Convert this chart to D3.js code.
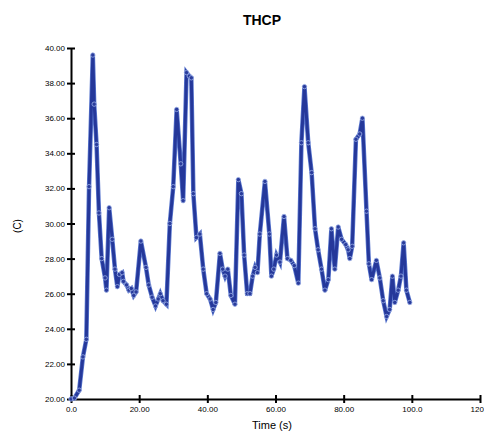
<!DOCTYPE html>
<meta charset="utf-8">
<script src="https://d3js.org/d3.v7.min.js"></script>
<style>
  body { margin: 0; background: #fff; }
  text { font-family: "Liberation Sans", Arial, sans-serif; }
</style>
<div id="my_dataviz"></div>
<script>
// data
var times = [0, 1, 2.4, 3.5, 4.5, 5.3, 6.4, 6.8, 7.5, 8.2, 9.0, 10.0, 10.4, 11.2, 12.1, 12.9, 13.6, 14.2, 15.0, 15.4,
  16.3, 17.0, 17.7, 18.4, 19.1, 20.5, 22.0, 22.8, 23.8, 24.8, 25.6, 26.2, 27.0, 28.0, 29.0, 30.0, 31.0, 32.2, 32.9, 33.9,
  34.7, 35.3, 35.9, 36.8, 37.8, 38.8, 39.8, 40.8, 41.7, 42.5, 43.7, 44.5, 45.2, 46.0, 46.9, 48.1, 49.1, 50.0, 50.8, 51.7,
  52.5, 53.3, 54.0, 54.7, 55.4, 56.9, 58.2, 58.8, 59.5, 60.3, 61.3, 62.5, 63.5, 64.5, 65.5, 66.7, 67.6, 68.5, 69.6, 70.6,
  71.6, 72.5, 73.5, 74.5, 75.5, 76.4, 77.4, 78.4, 79.4, 80.6, 81.3, 81.8, 82.5, 83.6, 84.7, 85.5, 86.7, 87.4, 88.2, 89.6,
  90.6, 91.6, 92.6, 93.5, 94.3, 95.0, 96.0, 96.8, 97.6, 98.4, 99.4];
var temps = [20.0, 20.05, 20.5, 22.4, 23.4, 32.1, 39.6, 36.8, 34.5, 30.6, 28.0, 26.9, 26.2, 30.9, 29.1, 27.4, 26.4, 27.1, 27.2, 26.7,
  26.5, 26.2, 26.3, 25.9, 26.1, 29.0, 27.5, 26.5, 25.8, 25.3, 25.7, 26.0, 25.6, 25.4, 30.0, 32.1, 36.5, 33.4, 31.3, 38.6,
  38.4, 38.3, 31.7, 29.2, 29.4, 27.4, 26.0, 25.7, 25.1, 25.5, 28.3, 27.4, 27.0, 27.4, 25.9, 25.4, 32.5, 31.7, 28.2, 26.0,
  26.0, 27.0, 27.5, 27.2, 29.4, 32.4, 29.4, 27.0, 27.4, 28.2, 27.8, 30.4, 28.0, 27.9, 27.6, 26.6, 34.6, 37.8, 34.6, 32.9,
  29.7, 28.5, 27.4, 26.2, 26.8, 29.7, 27.4, 29.8, 29.1, 28.8, 28.5, 28.0, 28.7, 34.8, 35.1, 36.0, 30.7, 27.7, 26.8, 27.9,
  26.9, 25.6, 24.7, 25.1, 27.0, 25.5, 26.2, 27.0, 28.9, 26.2, 25.5];
var xTicks = [0, 20, 40, 60, 80, 100, 120];
var xTickLabels = ["0.0", "20.00", "40.00", "60.00", "80.00", "100.0", "120.0"];
var yTicks = [20, 22, 24, 26, 28, 30, 32, 34, 36, 38, 40];
var yTickLabels = ["20.00", "22.00", "24.00", "26.00", "28.00", "30.00", "32.00", "34.00", "36.00", "38.00", "40.00"];

var data = times.map(function (t, i) { return { t: t, v: temps[i] }; });

var W = 484, H = 436;
var margin = { top: 48, right: 4, bottom: 37, left: 71 },
    width = W - margin.left - margin.right,
    height = H - margin.top - margin.bottom;

var svg = d3.select("#my_dataviz")
  .append("svg")
  .attr("width", W)
  .attr("height", H)
  .style("display", "block");

var g = svg.append("g")
  .attr("transform", "translate(" + margin.left + "," + margin.top + ")");

var x = d3.scaleLinear().domain([0, 120]).range([0, width]);
var y = d3.scaleLinear().domain([20, 40]).range([height, 0]);

// X axis
var xAxis = g.append("g")
  .attr("transform", "translate(0," + height + ")")
  .call(d3.axisBottom(x).tickValues(xTicks)
    .tickFormat(function (d, i) { return xTickLabels[i]; })
    .tickSizeInner(4).tickSizeOuter(0).tickPadding(3));
xAxis.select(".domain").attr("stroke", "#000").attr("stroke-width", 2);
xAxis.selectAll(".tick line").attr("y1", -4).attr("stroke-width", 2);
xAxis.selectAll(".tick text").attr("font-size", 8).attr("fill", "#000")
  .attr("font-family", "Liberation Sans Narrow, Liberation Sans, Arial");

// Y axis
var yAxis = g.append("g")
  .call(d3.axisLeft(y).tickValues(yTicks)
    .tickFormat(function (d, i) { return yTickLabels[i]; })
    .tickSizeInner(4).tickSizeOuter(0).tickPadding(2));
yAxis.select(".domain").attr("stroke", "#000").attr("stroke-width", 2);
yAxis.selectAll(".tick line").attr("x1", 4).attr("x2", -4).attr("stroke-width", 2);
yAxis.selectAll(".tick text").attr("font-size", 8).attr("fill", "#000")
  .attr("font-family", "Liberation Sans Narrow, Liberation Sans, Arial");

// Title
svg.append("text")
  .attr("x", 262).attr("y", 25)
  .attr("text-anchor", "middle")
  .attr("font-size", 14).attr("font-weight", "bold")
  .text("THCP");

// Axis labels
svg.append("text")
  .attr("transform", "translate(21,226) rotate(-90)")
  .attr("text-anchor", "middle")
  .attr("font-size", 10)
  .text("(C)");

svg.append("text")
  .attr("x", 272).attr("y", 429)
  .attr("text-anchor", "middle")
  .attr("font-size", 11)
  .text("Time (s)");

// the line
var line = d3.line()
  .x(function (d) { return x(d.t); })
  .y(function (d) { return y(d.v); });

g.append("path")
  .datum(data)
  .attr("fill", "none")
  .attr("stroke", "#5b78cf")
  .attr("stroke-width", 4.5)
  .attr("d", line);

g.append("path")
  .datum(data)
  .attr("fill", "none")
  .attr("stroke", "#25389a")
  .attr("stroke-width", 3)
  .attr("d", line);

// markers
g.selectAll("circle")
  .data(data)
  .enter()
  .append("circle")
  .attr("cx", function (d) { return x(d.t); })
  .attr("cy", function (d) { return y(d.v); })
  .attr("r", 2.2)
  .attr("fill", "#2a3c9c")
  .attr("stroke", "#9aaee6")
  .attr("stroke-width", 0.8);
</script>
